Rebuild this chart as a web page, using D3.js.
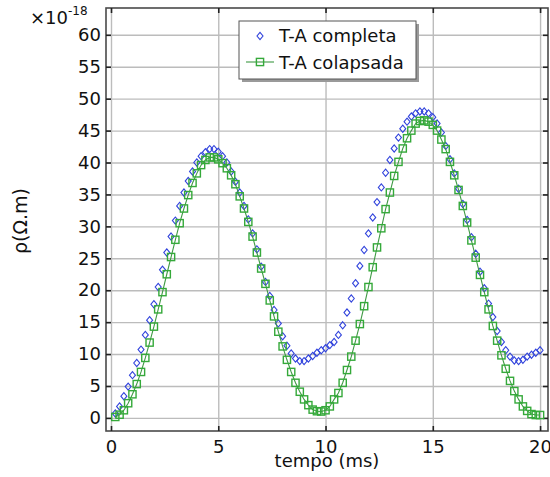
<!DOCTYPE html>
<html>
<head>
<meta charset="utf-8">
<script src="https://cdn.jsdelivr.net/npm/d3@7"></script>
<style>
  body { margin: 0; background: #fff; }
  svg text { font-family: "DejaVu Sans", sans-serif; fill: #111; }
</style>
</head>
<body>
<svg id="chart" width="550" height="477"></svg>
<script>
// tempo (ms)
var tempo = [
   0.2,  0.4,  0.6,  0.8,  1.0,  1.2,  1.4,  1.6,  1.8,  2.0,
   2.2,  2.4,  2.6,  2.8,  3.0,  3.2,  3.4,  3.6,  3.8,  4.0,
   4.2,  4.4,  4.6,  4.8,  5.0,  5.2,  5.4,  5.6,  5.8,  6.0,
   6.2,  6.4,  6.6,  6.8,  7.0,  7.2,  7.4,  7.6,  7.8,  8.0,
   8.2,  8.4,  8.6,  8.8,  9.0,  9.2,  9.4,  9.6,  9.8, 10.0,
  10.2, 10.4, 10.6, 10.8, 11.0, 11.2, 11.4, 11.6, 11.8, 12.0,
  12.2, 12.4, 12.6, 12.8, 13.0, 13.2, 13.4, 13.6, 13.8, 14.0,
  14.2, 14.4, 14.6, 14.8, 15.0, 15.2, 15.4, 15.6, 15.8, 16.0,
  16.2, 16.4, 16.6, 16.8, 17.0, 17.2, 17.4, 17.6, 17.8, 18.0,
  18.2, 18.4, 18.6, 18.8, 19.0, 19.2, 19.4, 19.6, 19.8, 20.0
];

// rho x 1e-18 , T-A completa
var completa = [
   0.7,  1.8,  3.4,  4.9,  6.7,  8.6, 10.7, 13.0, 15.3, 17.8,
  20.5, 23.2, 25.9, 28.4, 30.9, 33.2, 35.3, 37.1, 38.6, 40.0,
  41.0, 41.6, 42.1, 42.1, 41.7, 41.0, 40.0, 38.6, 37.0, 35.3,
  33.2, 31.1, 28.9, 26.4, 23.7, 21.3, 19.1, 16.9, 14.8, 12.8,
  11.3, 10.1,  9.3,  8.9,  8.9,  9.3,  9.7, 10.2, 10.6, 10.9,
  11.4, 11.9, 13.0, 14.5, 16.5, 18.7, 21.1, 23.8, 26.3, 28.9,
  31.4, 33.8, 36.1, 38.4, 40.4, 42.2, 43.9, 45.3, 46.4, 47.2,
  47.7, 48.0, 48.0, 47.7, 47.1, 46.1, 44.7, 42.6, 40.5, 38.3,
  35.9, 33.5, 31.0, 28.3, 25.7, 22.9, 20.3, 17.9, 15.8, 13.6,
  11.9, 10.6,  9.6,  9.0,  8.9,  9.1,  9.6,  9.9, 10.2, 10.6
];

// rho x 1e-18 , T-A colapsada
var colapsada = [
   0.15, 0.5,  1.2,  2.3,  3.7,  5.3,  7.2,  9.4, 11.8, 14.3,
  17.0, 19.7, 22.5, 25.2, 27.9, 30.5, 32.8, 34.9, 36.8, 38.3,
  39.6, 40.4, 40.8, 40.8, 40.5, 39.9, 39.1, 38.0, 36.6, 34.7,
  32.8, 30.7, 28.4, 25.9, 23.4, 21.0, 18.4, 15.9, 13.5, 11.2,
   9.1,  7.2,  5.5,  4.1,  2.9,  2.0,  1.3,  1.05, 1.0,  1.2,
   1.8,  2.9,  3.9,  5.5,  7.5,  9.6, 12.1, 14.7, 17.5, 20.5,
  23.6, 26.7, 29.7, 32.7, 35.3, 37.9, 40.1, 42.2, 43.8, 45.0,
  46.1, 46.5, 46.6, 46.4, 45.9, 45.0, 43.6, 42.1, 40.1, 38.0,
  35.7, 33.2, 30.6, 27.8, 25.1, 22.4, 19.7, 17.0, 14.4, 12.1,
   9.8,  7.7,  5.8,  4.2,  2.9,  1.8,  1.1,  0.6,  0.45, 0.45
];

var xTicks = [0, 5, 10, 15, 20];
var yTicks = [0, 5, 10, 15, 20, 25, 30, 35, 40, 45, 50, 55, 60];
var seriesNames = ["T-A completa", "T-A colapsada"];

var svg = d3.select("#chart");
var plot = { left: 106, right: 548, top: 8, bottom: 431 };

var xScale = d3.scaleLinear()
    .domain([-0.233, 20.37])
    .range([plot.left, plot.right]);
var yScale = d3.scaleLinear()
    .domain([-2.05, 64.2])
    .range([plot.bottom, plot.top]);

var blue = "#3143dc", green = "#35a93a", lineGreen = "#3f9a44";

// grid
svg.append("g")
    .attr("transform", "translate(0," + plot.bottom + ")")
    .call(d3.axisBottom(xScale).tickValues(xTicks).tickSize(-(plot.bottom - plot.top)).tickFormat(""))
    .call(g => g.select(".domain").remove())
    .selectAll("line").attr("stroke", "#bcbcbc").attr("stroke-width", 1.4);
svg.append("g")
    .attr("transform", "translate(" + plot.left + ",0)")
    .call(d3.axisLeft(yScale).tickValues(yTicks).tickSize(-(plot.right - plot.left)).tickFormat(""))
    .call(g => g.select(".domain").remove())
    .selectAll("line").attr("stroke", "#bcbcbc").attr("stroke-width", 1.4);

// frame
svg.append("rect")
    .attr("x", plot.left).attr("y", plot.top)
    .attr("width", plot.right - plot.left).attr("height", plot.bottom - plot.top)
    .attr("fill", "none").attr("stroke", "#4a4a4a").attr("stroke-width", 1.6);

// inward ticks on all sides + labels
var xb = svg.append("g").attr("transform", "translate(0," + plot.bottom + ")")
    .call(d3.axisBottom(xScale).tickValues(xTicks).tickSize(-5).tickPadding(9));
var xt = svg.append("g").attr("transform", "translate(0," + plot.top + ")")
    .call(d3.axisTop(xScale).tickValues(xTicks).tickSize(-5).tickFormat(""));
var yl = svg.append("g").attr("transform", "translate(" + plot.left + ",0)")
    .call(d3.axisLeft(yScale).tickValues(yTicks).tickSize(-5).tickPadding(5));
var yr = svg.append("g").attr("transform", "translate(" + plot.right + ",0)")
    .call(d3.axisRight(yScale).tickValues(yTicks).tickSize(-5).tickFormat(""));
[xb, xt, yl, yr].forEach(function(g){
    g.select(".domain").remove();
    g.selectAll("line").attr("stroke", "#222").attr("stroke-width", 1.6);
    g.selectAll("text").style("font-size", "18px").attr("fill", "#111");
});

// series
var ptsA = tempo.map((t, i) => [t, completa[i]]);
var ptsB = tempo.map((t, i) => [t, colapsada[i]]);

var diamond = "M0,-3.6L3,0L0,3.6L-3,0Z";
svg.append("g").selectAll("path")
    .data(ptsA).enter().append("path")
    .attr("d", diamond)
    .attr("transform", d => "translate(" + xScale(d[0]) + "," + yScale(d[1]) + ")")
    .attr("fill", "none").attr("stroke", blue).attr("stroke-width", 1.1);

svg.append("path")
    .datum(ptsB)
    .attr("d", d3.line().x(d => xScale(d[0])).y(d => yScale(d[1])))
    .attr("fill", "none").attr("stroke", lineGreen).attr("stroke-width", 1.1);

svg.append("g").selectAll("rect")
    .data(ptsB).enter().append("rect")
    .attr("x", d => xScale(d[0]) - 3.6).attr("y", d => yScale(d[1]) - 3.6)
    .attr("width", 7.2).attr("height", 7.2)
    .attr("fill", "none").attr("stroke", green).attr("stroke-width", 1.4);

// axis titles
svg.append("text")
    .attr("x", 327).attr("y", 467)
    .attr("text-anchor", "middle").style("font-size", "18px")
    .text("tempo (ms)");
svg.append("text")
    .attr("transform", "translate(27,221) rotate(-90)")
    .attr("text-anchor", "middle").style("font-size", "19px")
    .text("ρ(Ω.m)");

// exponent
var ex = svg.append("text").attr("x", 30).attr("y", 24).style("font-size", "18px");
ex.append("tspan").text("×10");
ex.append("tspan").attr("dy", -9).style("font-size", "12px").text("-18");

// legend
var lg = svg.append("g").attr("transform", "translate(239,21)");
lg.append("rect").attr("x", 3).attr("y", 3).attr("width", 177).attr("height", 58).attr("fill", "#9a9a9a");
lg.append("rect").attr("width", 177).attr("height", 58)
    .attr("fill", "#fff").attr("stroke", "#555").attr("stroke-width", 1);
lg.append("path").attr("d", diamond).attr("transform", "translate(21,15)")
    .attr("fill", "none").attr("stroke", blue).attr("stroke-width", 1.1);
lg.append("line").attr("x1", 7).attr("x2", 35).attr("y1", 41).attr("y2", 41)
    .attr("stroke", lineGreen).attr("stroke-width", 1.1);
lg.append("rect").attr("x", 21 - 3.6).attr("y", 41 - 3.6).attr("width", 7.2).attr("height", 7.2)
    .attr("fill", "none").attr("stroke", green).attr("stroke-width", 1.4);
lg.selectAll("text.lab").data(seriesNames).enter().append("text")
    .attr("class", "lab")
    .attr("x", 40).attr("y", (d, i) => 21 + i * 26.5)
    .style("font-size", "18px")
    .text(d => d);
</script>
</body>
</html>
